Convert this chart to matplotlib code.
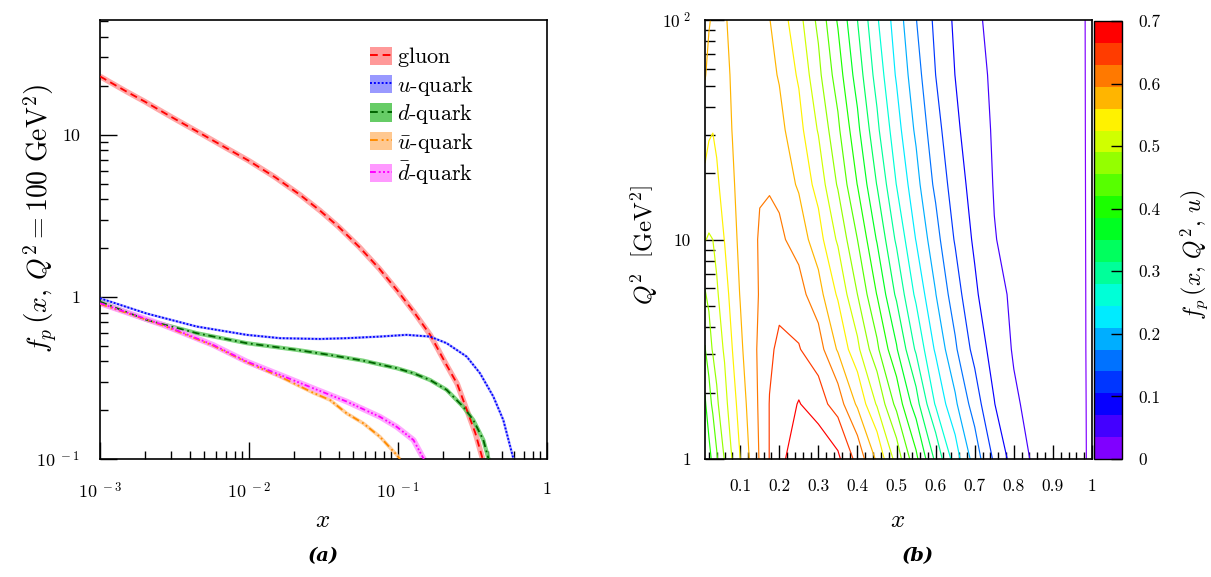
import numpy as np
import matplotlib
matplotlib.use('Agg')
import matplotlib.pyplot as plt
from matplotlib.colors import ListedColormap, BoundaryNorm, hsv_to_rgb
from matplotlib.cm import ScalarMappable
from matplotlib.lines import Line2D
from matplotlib.patches import Patch
from matplotlib.ticker import FixedLocator, FixedFormatter, NullFormatter, LogLocator, MultipleLocator

plt.rcParams['mathtext.fontset'] = 'cm'
plt.rcParams['font.family'] = 'cmr10'
plt.rcParams['axes.formatter.use_mathtext'] = True

# --- (a) parton densities at Q^2 = 100 GeV^2 ---
gluon_x = [0.001, 0.0015, 0.002, 0.003, 0.005, 0.007, 0.01, 0.015, 0.022, 0.03, 0.04,
           0.055, 0.075, 0.1, 0.13, 0.165, 0.21, 0.25, 0.29, 0.33, 0.37, 0.40]
gluon_y = [22.9, 18.5, 16.0, 12.9, 9.9, 8.3, 6.9, 5.46, 4.26, 3.40, 2.70,
           2.03, 1.49, 1.08, 0.79, 0.58, 0.385, 0.29, 0.20, 0.145, 0.10, 0.075]

u_x = [0.001, 0.00205, 0.00446, 0.00966, 0.0162, 0.03, 0.0453, 0.0757, 0.114, 0.164,
       0.212, 0.289, 0.355, 0.436, 0.509, 0.594, 0.63]
u_y = [0.98, 0.79, 0.656, 0.583, 0.556, 0.55, 0.556, 0.569, 0.583, 0.569,
       0.518, 0.428, 0.338, 0.243, 0.174, 0.101, 0.08]

d_x = [0.001, 0.00205, 0.00446, 0.00966, 0.0209, 0.035, 0.0585, 0.098, 0.127, 0.164,
       0.212, 0.274, 0.32, 0.374, 0.404, 0.43]
d_y = [0.935, 0.721, 0.597, 0.518, 0.471, 0.438, 0.404, 0.363, 0.338, 0.307,
       0.267, 0.21, 0.174, 0.131, 0.101, 0.08]

ubar_x = [0.001, 0.00266, 0.00575, 0.00966, 0.0162, 0.027, 0.035, 0.0453, 0.0585,
          0.0757, 0.098, 0.11]
ubar_y = [0.905, 0.665, 0.50, 0.395, 0.322, 0.256, 0.231, 0.191, 0.166,
          0.137, 0.106, 0.092]

dbar_x = [0.001, 0.00266, 0.00575, 0.00966, 0.0162, 0.027, 0.0453, 0.0757, 0.098,
          0.127, 0.148, 0.16]
dbar_y = [0.914, 0.671, 0.505, 0.399, 0.330, 0.273, 0.226, 0.182, 0.158,
          0.131, 0.101, 0.088]

# --- (b) u-quark density on an (x, Q^2) grid ---
grid_x = [0.01, 0.02, 0.03, 0.04, 0.06, 0.08, 0.10, 0.125, 0.15, 0.175, 0.20, 0.25,
          0.30, 0.35, 0.40, 0.45, 0.50, 0.55, 0.60, 0.65, 0.70, 0.75, 0.80, 0.85,
          0.90, 0.95, 0.99, 1.0]
grid_q2 = [1.0, 1.78, 3.16, 5.62, 10.0, 17.8, 31.6, 56.2, 100.0]
fp_u = [
    [0.36, 0.375, 0.392, 0.416, 0.457, 0.492, 0.525, 0.563, 0.598, 0.631, 0.658, 0.68,
     0.69, 0.672, 0.618, 0.554, 0.476, 0.393, 0.307, 0.227, 0.159, 0.0995, 0.055, 0.0305,
     0.019, 0.008, -0.001, -0.003],
    [0.38, 0.405, 0.428, 0.449, 0.479, 0.509, 0.54, 0.572, 0.601, 0.631, 0.645, 0.667,
     0.646, 0.6125, 0.554, 0.486, 0.409, 0.329, 0.241, 0.181, 0.122, 0.071, 0.039, 0.027,
     0.017, 0.007, -0.001, -0.003],
    [0.418, 0.44, 0.4585, 0.47, 0.4945, 0.525, 0.553, 0.579, 0.602, 0.624, 0.637, 0.632,
     0.61, 0.556, 0.498, 0.427, 0.353, 0.274, 0.2045, 0.145, 0.093, 0.0556, 0.032, 0.0235,
     0.014, 0.006, -0.001, -0.003],
    [0.452, 0.464, 0.4745, 0.485, 0.511, 0.5375, 0.5616, 0.582, 0.597, 0.610, 0.618, 0.608,
     0.573, 0.52, 0.455, 0.3836, 0.308, 0.237, 0.176, 0.120, 0.0755, 0.045, 0.0297, 0.0217,
     0.0137, 0.0057, -0.001, -0.003],
    [0.491, 0.488, 0.49, 0.502, 0.526, 0.5495, 0.567, 0.584, 0.598, 0.604, 0.602, 0.580,
     0.539, 0.4844, 0.42, 0.347, 0.2736, 0.2084, 0.152, 0.1017, 0.064, 0.036, 0.0278, 0.0203,
     0.0128, 0.0053, -0.001, -0.003],
    [0.515, 0.51, 0.513, 0.52, 0.537, 0.556, 0.57, 0.584, 0.592, 0.592, 0.585, 0.555,
     0.511, 0.451, 0.384, 0.3136, 0.244, 0.186, 0.132, 0.088, 0.0556, 0.0333, 0.0262, 0.0192,
     0.012, 0.005, -0.001, -0.003],
    [0.546, 0.53, 0.526, 0.532, 0.545, 0.561, 0.572, 0.58, 0.583, 0.58, 0.57, 0.5366,
     0.487, 0.4266, 0.358, 0.2872, 0.2234, 0.1685, 0.1176, 0.0774, 0.0488, 0.0318, 0.025,
     0.0182, 0.0115, 0.0047, -0.001, -0.003],
    [0.562, 0.552, 0.544, 0.543, 0.551, 0.564, 0.576, 0.582, 0.58, 0.57, 0.557, 0.52,
     0.464, 0.402, 0.334, 0.266, 0.206, 0.1535, 0.105, 0.0695, 0.0434, 0.0306, 0.0241,
     0.0175, 0.011, 0.0045, -0.001, -0.003],
    [0.575, 0.563, 0.555, 0.552, 0.557, 0.567, 0.578, 0.583, 0.578, 0.561, 0.544, 0.502,
     0.446, 0.381, 0.315, 0.249, 0.1935, 0.141, 0.0973, 0.0643, 0.0386, 0.0296, 0.0233,
     0.0169, 0.0106, 0.0043, -0.001, -0.003],
]
cbar_ticks = [0, 0.1, 0.2, 0.3, 0.4, 0.5, 0.6, 0.7]

# 20 bands of 0.035 from violet to red
n_bands = 20
band_step = 0.035
band_colors = [hsv_to_rgb((0.75 * (1 - i / (n_bands - 1)), 1.0, 1.0)) for i in range(n_bands)]
band_edges = np.arange(n_bands + 1) * band_step
levels = band_edges[:-1]

W, H = 1211, 577
fig = plt.figure(figsize=(W / 100, H / 100), dpi=100)


def box(x0, y0, x1, y1):
    return [x0 / W, 1 - y1 / H, (x1 - x0) / W, (y1 - y0) / H]


def style_spines(ax):
    for s in ax.spines.values():
        s.set_linewidth(1.2)
        s.set_color('black')


# ---------------- panel (a) ----------------
ax1 = fig.add_axes(box(100, 20, 547, 459))
ax1.set_xscale('log')
ax1.set_yscale('log')

curves = [
    (gluon_x, gluon_y, '#ff0000', '#ff9999', (0, (4, 2.5)), 4.0, r'$\mathrm{gluon}$'),
    (u_x, u_y, '#0000ff', '#9999ff', (0, (1, 1)), 1.8, r'$u$-quark'),
    (d_x, d_y, '#006400', '#66cc66', (0, (4, 2, 1, 2)), 3.0, r'$d$-quark'),
    (ubar_x, ubar_y, '#ff8c00', '#ffc890', (0, (4, 2, 1, 1.5, 1, 1.5)), 2.6, r'$\bar{u}$-quark'),
    (dbar_x, dbar_y, '#ff00ff', '#ff99ff', (0, (3, 1.5, 1, 1.2, 1, 1.2, 1, 1.2)), 4.2, r'$\bar{d}$-quark'),
]

handles, labels = [], []
for xs, ys, lc, bc, ls, bw, lab in curves:
    ax1.plot(xs, ys, color=bc, lw=bw, solid_capstyle='butt', alpha=0.85, zorder=2)
    ax1.plot(xs, ys, color=lc, lw=1.3, linestyle=ls, zorder=3)
    handles.append((Patch(facecolor=bc, edgecolor='none'),
                    Line2D([], [], color=lc, lw=1.4, linestyle=ls)))
    labels.append(lab)

ax1.set_xlim(1e-3, 1)
ax1.set_ylim(0.1, 51)
ax1.xaxis.set_major_locator(FixedLocator([1e-3, 1e-2, 1e-1, 1]))
ax1.xaxis.set_major_formatter(FixedFormatter([r'$10^{\ -3}$', r'$10^{\ -2}$', r'$10^{\ -1}$', '1']))
ax1.xaxis.set_minor_locator(LogLocator(base=10, subs=np.arange(2, 10)))
ax1.xaxis.set_minor_formatter(NullFormatter())
ax1.yaxis.set_major_locator(FixedLocator([0.1, 1, 10]))
ax1.yaxis.set_major_formatter(FixedFormatter([r'$10^{\ -1}$', '1', '10']))
ax1.yaxis.set_minor_locator(LogLocator(base=10, subs=np.arange(2, 10)))
ax1.yaxis.set_minor_formatter(NullFormatter())
ax1.tick_params(which='major', direction='in', length=12, width=1.0, labelsize=13,
                top=False, right=False)
ax1.tick_params(which='minor', direction='in', length=6, width=1.0, top=False, right=False)
ax1.tick_params(axis='x', which='major', pad=16)
ax1.tick_params(axis='y', which='major', pad=14)
style_spines(ax1)

ax1.legend(handles, labels, loc='upper left', bbox_to_anchor=(0.603, 0.942),
           frameon=False, fontsize=16, borderpad=0, borderaxespad=0,
           handlelength=1.0, handleheight=0.9, handletextpad=0.25, labelspacing=0.2)

# ---------------- panel (b) ----------------
ax2 = fig.add_axes(box(705, 20, 1092, 459))
ax2.set_yscale('log')
ax2.contour(grid_x, grid_q2, np.array(fp_u), levels=levels, colors=band_colors,
            linewidths=0.85, zorder=2)
ax2.set_xlim(0.01, 1.0)
ax2.set_ylim(1, 100)
ax2.xaxis.set_major_locator(FixedLocator(np.arange(1, 11) / 10))
ax2.xaxis.set_major_formatter(FixedFormatter(['0.1', '0.2', '0.3', '0.4', '0.5', '0.6',
                                              '0.7', '0.8', '0.9', '1']))
ax2.xaxis.set_minor_locator(MultipleLocator(0.02))
ax2.yaxis.set_major_locator(FixedLocator([1, 10, 100]))
ax2.yaxis.set_major_formatter(FixedFormatter(['1', '10', r'$10^{\ 2}$']))
ax2.yaxis.set_minor_locator(LogLocator(base=10, subs=np.arange(2, 10)))
ax2.yaxis.set_minor_formatter(NullFormatter())
ax2.tick_params(which='major', direction='in', length=10, width=1.0, labelsize=12.5,
                top=False, right=False)
ax2.tick_params(which='minor', direction='in', length=5, width=1.0, top=False, right=False)
ax2.tick_params(axis='x', which='major', pad=14)
ax2.tick_params(axis='y', which='major', pad=10)
ax2.tick_params(axis='y', which='major', length=14)
ax2.tick_params(axis='y', which='minor', length=7)
style_spines(ax2)

cax = fig.add_axes(box(1094, 21, 1122, 459))
sm = ScalarMappable(norm=BoundaryNorm(band_edges, n_bands), cmap=ListedColormap(band_colors))
cb = fig.colorbar(sm, cax=cax, ticks=cbar_ticks)
cb.ax.set_yticklabels(['0', '0.1', '0.2', '0.3', '0.4', '0.5', '0.6', '0.7'])
cb.outline.set_linewidth(1.0)
cb.ax.tick_params(direction='in', length=8, width=1.0, labelsize=12.5, pad=12)
cb.ax.minorticks_off()

# ---------------- labels ----------------
def ftext(px, py, s, **kw):
    fig.text(px / W, 1 - py / H, s, ha='center', va='center', **kw)


ftext(40, 218, r'$f_{p}\,\left(x,\,Q^{2}=100\ \mathrm{GeV}^{2}\right)$', rotation=90, fontsize=20)
ftext(323, 521, r'$x$', fontsize=18)
ftext(898, 521, r'$x$', fontsize=18)
ftext(645, 245, r'$Q^{2}\ \ \left[\mathrm{GeV}^{2}\right]$', rotation=90, fontsize=18)
ftext(1194, 255, r'$f_{p}\,\left(x,\,Q^{2},\,u\right)$', rotation=90, fontsize=17)
ftext(323, 556, '(a)', fontsize=14, family='DejaVu Serif', style='italic', weight='bold')
ftext(918, 556, '(b)', fontsize=14, family='DejaVu Serif', style='italic', weight='bold')

fig.savefig('out.png', dpi=100)
